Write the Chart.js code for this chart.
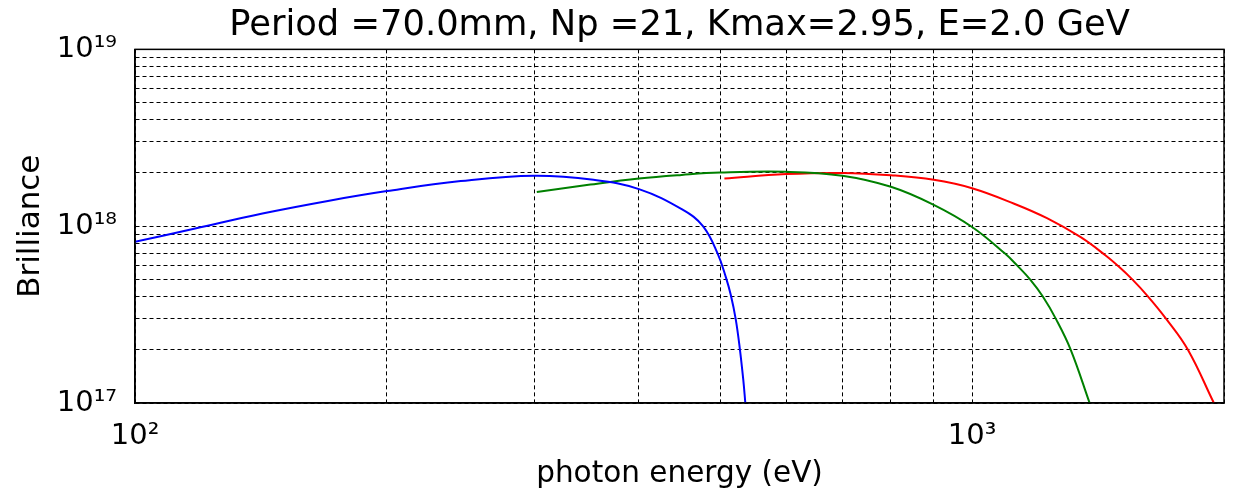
<!DOCTYPE html>
<html>
<head>
<meta charset="utf-8">
<script src="https://cdn.jsdelivr.net/npm/chart.js@4.4.1/dist/chart.umd.min.js"></script>
<style>
html,body{margin:0;padding:0;background:#fff;}
canvas{display:block;}
</style>
</head>
<body>
<canvas id="c" width="1240" height="492"></canvas>
<script>
// ---- data ----
const titleText = 'Period =70.0mm, Np =21, Kmax=2.95, E=2.0 GeV';
const xAxisTitle = 'photon energy (eV)';
const yAxisTitle = 'Brilliance';

const xTickValues = [100,200,300,400,500,600,700,800,900,1000,2000];
const xTickLabels = ['10²','','','','','','','','','10³',''];
const yTickValues = [1e17,2e17,3e17,4e17,5e17,6e17,7e17,8e17,9e17,
                     1e18,2e18,3e18,4e18,5e18,6e18,7e18,8e18,9e18,1e19];
const yTickLabels = ['10¹⁷','','','','','','','','',
                     '10¹⁸','','','','','','','','','10¹⁹'];

// harmonic 1 (blue)
const h1Energy = [100,118,142,170,200,245,300,353,400,451,477,497,508,515,522,528,533,536];
const h1Bril   = [8.15e17,9.7e17,1.18e18,1.39e18,1.58e18,1.80e18,1.93e18,1.83e18,1.62e18,1.24e18,1.0e18,6.95e17,5.15e17,4.08e17,2.98e17,2.02e17,1.35e17,1.0e17];
// harmonic 3 (green)
const h3Energy = [302,350,400,450,500,600,700,800,900,1000,1095,1132,1173,1215,1259,1312,1382];
const h3Bril   = [1.56e18,1.72e18,1.86e18,1.95e18,2.01e18,2.03e18,1.93e18,1.67e18,1.32e18,9.9e17,7.0e17,6.0e17,5.0e17,4.0e17,3.0e17,2.0e17,1.0e17];
// harmonic 5 (red)
const h5Energy = [506,600,700,800,900,1000,1123,1229,1347,1443,1496,1554,1623,1705,1811,1945];
const h5Bril   = [1.86e18,1.97e18,2.0e18,1.94e18,1.83e18,1.64e18,1.34e18,1.11e18,8.69e17,6.85e17,5.93e17,5.0e17,4.0e17,3.0e17,2.0e17,1.0e17];

const toPts = (xs, ys) => xs.map((x, i) => ({x: x, y: ys[i]}));
const FONT = 'DejaVu Sans';

const frame = {
  id: 'frame',
  afterDatasetsDraw(chart) {
    const a = chart.chartArea, ctx = chart.ctx;
    ctx.save();
    ctx.strokeStyle = '#000';
    ctx.lineWidth = 1.5;
    ctx.strokeRect(a.left, a.top, a.right - a.left, a.bottom - a.top);
    ctx.restore();
  }
};

const lineDs = (label, data, color) => ({
  label, data, borderColor: color, backgroundColor: color,
  borderWidth: 2, pointRadius: 0, fill: false,
  tension: 0.4
});

new Chart(document.getElementById('c'), {
  type: 'line',
  data: {
    datasets: [
      lineDs('n=1', toPts(h1Energy, h1Bril), '#0000ff'),
      lineDs('n=3', toPts(h3Energy, h3Bril), '#008000'),
      lineDs('n=5', toPts(h5Energy, h5Bril), '#ff0000')
    ]
  },
  plugins: [frame],
  options: {
    responsive: false,
    animation: false,
    devicePixelRatio: 1,
    layout: { padding: { left: 0, right: 8, top: 0, bottom: 0 } },
    plugins: {
      legend: { display: false },
      tooltip: { enabled: false },
      title: {
        display: true, text: titleText, fullSize: false,
        color: '#000', font: { family: FONT, size: 35.3, weight: 'normal' },
        padding: { top: 5, bottom: 2 }
      }
    },
    scales: {
      x: {
        type: 'logarithmic', position: 'bottom', min: 100, max: 2000,
        afterBuildTicks: s => { s.ticks = xTickValues.map(v => ({ value: v })); },
        afterFit: s => { s.height = 89; },
        ticks: {
          autoSkip: false, maxRotation: 0, minRotation: 0, padding: 16,
          color: '#000', font: { family: FONT, size: 29 },
          callback: v => { const i = xTickValues.indexOf(v); return i >= 0 ? xTickLabels[i] : ''; }
        },
        grid: { color: '#000', lineWidth: 1, drawTicks: false },
        border: { display: true, color: '#000', width: 1.5, dash: [4, 3] },
        title: {
          display: true, text: xAxisTitle, color: '#000',
          font: { family: FONT, size: 29.5 }, padding: { top: 0, bottom: 0 }
        }
      },
      y: {
        type: 'logarithmic', position: 'left', min: 1e17, max: 1e19,
        afterBuildTicks: s => { s.ticks = yTickValues.map(v => ({ value: v })); },
        afterFit: s => { s.width = 135; },
        ticks: {
          autoSkip: false, padding: 18,
          color: '#000', font: { family: FONT, size: 29 },
          callback: v => { const i = yTickValues.findIndex(t => Math.abs(t - v) / t < 1e-9); return i >= 0 ? yTickLabels[i] : ''; }
        },
        grid: { color: '#000', lineWidth: 1, drawTicks: false },
        border: { display: true, color: '#000', width: 1.5, dash: [4, 3] },
        title: {
          display: true, text: yAxisTitle, color: '#000',
          font: { family: FONT, size: 31 }, padding: { top: 12, bottom: 0 }
        }
      }
    }
  }
});
</script>
</body>
</html>
